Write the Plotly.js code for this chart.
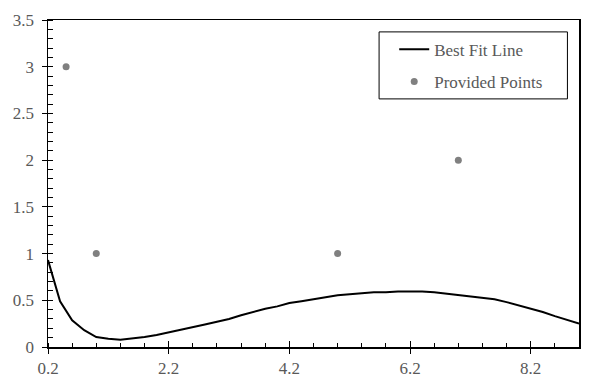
<!DOCTYPE html>
<html>
<head>
<meta charset="utf-8">
<script src="https://cdn.plot.ly/plotly-3.0.1.min.js"></script>
<style>html,body{margin:0;padding:0;background:#fff;}#chart{width:603px;height:392px;}</style>
</head>
<body>
<div id="chart"></div>
<script>
// Best fit line samples
var fitX = [0.2,0.4,0.6,0.8,1.0,1.2,1.4,1.6,1.8,2.0,2.2,2.4,2.6,2.8,3.0,3.2,3.4,3.6,3.8,4.0,4.2,4.4,4.6,4.8,5.0,5.2,5.4,5.6,5.8,6.0,6.2,6.4,6.6,6.8,7.0,7.2,7.4,7.6,7.8,8.0,8.2,8.4,8.6,8.8,9.0];
var fitY = [0.93,0.49,0.285,0.18,0.107,0.088,0.078,0.09,0.107,0.128,0.155,0.18,0.21,0.24,0.27,0.30,0.34,0.375,0.41,0.435,0.47,0.49,0.51,0.535,0.555,0.565,0.578,0.585,0.585,0.595,0.595,0.595,0.585,0.57,0.56,0.54,0.53,0.51,0.48,0.445,0.41,0.375,0.33,0.29,0.25];
// Provided points
var ptX = [0.5, 1.0, 5.0, 7.0];
var ptY = [3.0, 1.0, 1.0, 2.0];
var xTickVals = [0.2, 2.2, 4.2, 6.2, 8.2];
var xTickText = ['0.2', '2.2', '4.2', '6.2', '8.2'];
var yTickVals = [0, 0.5, 1, 1.5, 2, 2.5, 3, 3.5];
var yTickText = ['0', '0.5', '1', '1.5', '2', '2.5', '3', '3.5'];

var fam = 'Liberation Serif, Times New Roman, serif';
var font = {family: fam, size: 17, color: '#595959'};

var traces = [
  {x: fitX, y: fitY, type: 'scatter', mode: 'lines', name: 'Best Fit Line',
   line: {color: '#000000', width: 2}, legendgroup: 'a'},
  {x: ptX, y: ptY, type: 'scatter', mode: 'markers', name: 'Provided Points',
   marker: {color: '#808080', size: 7}, legendgroup: 'b'},
  {x: [0.2], y: [0], xaxis: 'x2', yaxis: 'y2', mode: 'markers', marker: {opacity: 0}, showlegend: false, hoverinfo: 'skip'}
];

var layout = {
  width: 603, height: 392,
  margin: {l: 48, r: 24, t: 20, b: 45},
  paper_bgcolor: '#ffffff', plot_bgcolor: '#ffffff',
  font: font,
  showlegend: true,
  legend: {
    x: 0.652, y: 0.964, xanchor: 'left', yanchor: 'top',
    bgcolor: 'rgba(0,0,0,0)', borderwidth: 0,
    font: {family: fam, size: 17, color: '#595959'},
    traceorder: 'grouped', tracegroupgap: 7
  },
  xaxis: {
    range: [0.2, 9.0], tickmode: 'array', tickvals: xTickVals, ticktext: xTickText,
    showgrid: false, zeroline: false, showline: true, linecolor: '#000', linewidth: 1.5,
    mirror: true, ticks: 'outside', ticklen: 5, tickwidth: 1, tickcolor: '#000',
    minor: {ticks: 'inside', dtick: 0.4, tick0: 0.2, ticklen: 4, tickwidth: 1, tickcolor: '#000', showgrid: false},
    tickfont: font, fixedrange: true
  },
  yaxis: {
    range: [0, 3.5], tickmode: 'array', tickvals: yTickVals, ticktext: yTickText,
    showgrid: false, zeroline: false, showline: true, linecolor: '#000', linewidth: 1.5,
    mirror: true, ticks: 'outside', ticklen: 5, tickwidth: 1, tickcolor: '#000',
    minor: {ticks: 'inside', dtick: 0.1, tick0: 0, ticklen: 5, tickwidth: 1, tickcolor: '#000', showgrid: false},
    tickfont: font, ticklabelstandoff: 4, fixedrange: true
  },
  xaxis2: {
    overlaying: 'x', range: [0.2, 9.0], tickmode: 'array', tickvals: xTickVals,
    showticklabels: false, ticks: 'inside', ticklen: 6, tickcolor: '#000', tickwidth: 1,
    showgrid: false, zeroline: false, showline: false, side: 'bottom', anchor: 'y2'
  },
  yaxis2: {
    overlaying: 'y', range: [0, 3.5], tickmode: 'array', tickvals: yTickVals,
    showticklabels: false, ticks: 'inside', ticklen: 5, tickcolor: '#000', tickwidth: 1,
    showgrid: false, zeroline: false, showline: false, side: 'left', anchor: 'x2'
  },
  shapes: [
    {type: 'rect', xref: 'paper', yref: 'paper', x0: 0.6235, x1: 0.9782, y0: 0.7587, y1: 0.9636,
     line: {color: '#000', width: 1}, fillcolor: 'rgba(0,0,0,0)'}
  ]
};

Plotly.newPlot('chart', traces, layout, {displayModeBar: false, staticPlot: true});
</script>
</body>
</html>
